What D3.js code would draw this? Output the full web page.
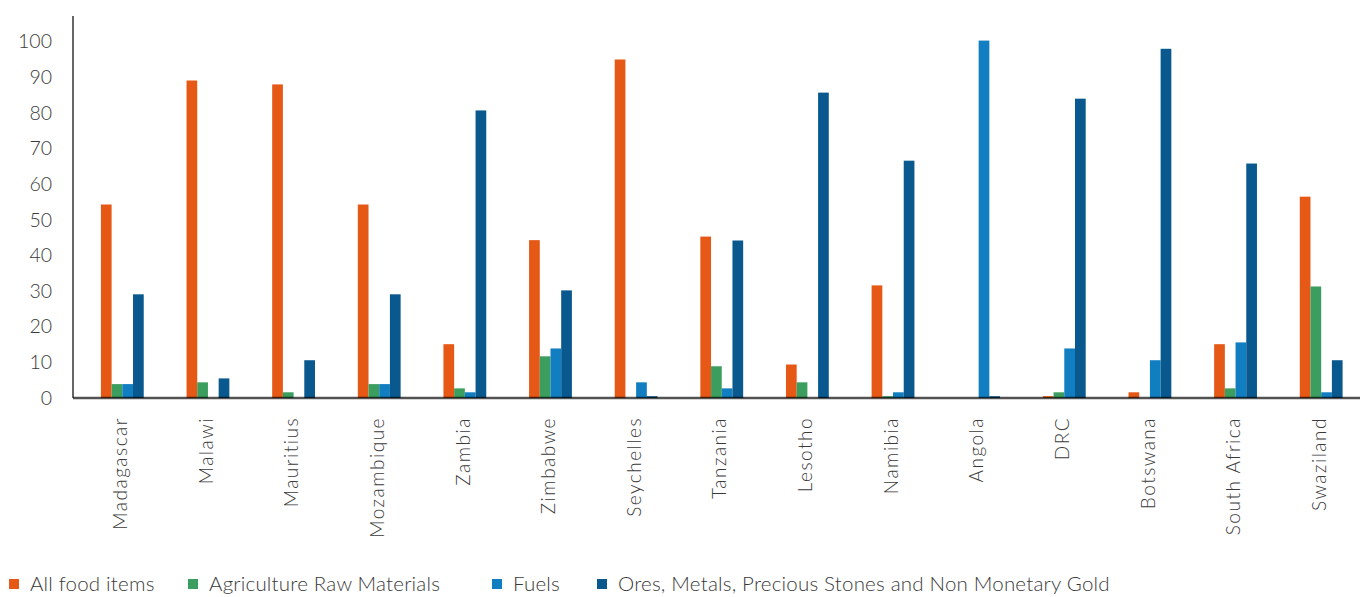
<!DOCTYPE html>
<html>
<head>
<meta charset="utf-8">
<script src="https://cdn.jsdelivr.net/npm/d3@7"></script>
<style>
  html, body { margin: 0; padding: 0; background: #fff; }
  svg text { font-family: Lato, "Open Sans", sans-serif; font-weight: 300; fill: #3a3a3a; }
</style>
</head>
<body>
<svg id="chart" width="1360" height="597"></svg>
<script>
// Export composition by product group, per country (%)
const countries = ["Madagascar", "Malawi", "Mauritius", "Mozambique", "Zambia", "Zimbabwe",
  "Seychelles", "Tanzania", "Lesotho", "Namibia", "Angola", "DRC", "Botswana", "South Africa", "Swaziland"];
const seriesNames = ["All food items", "Agriculture Raw Materials", "Fuels",
  "Ores, Metals, Precious Stones and Non Monetary Gold"];
const foodItems   = [54.3, 89.1, 88.0, 54.3, 15.1, 44.3, 95.0, 45.3,  9.4, 31.6,   0.0,  0.5,  1.6, 15.1, 56.5];
const agriRaw     = [ 3.9,  4.4,  1.6,  3.9,  2.7, 11.7,  0.0,  8.9,  4.4,  0.5,   0.0,  1.6,  0.0,  2.7, 31.3];
const fuels       = [ 3.9,  0.0,  0.0,  3.9,  1.6, 13.9,  4.4,  2.7,  0.0,  1.6, 100.3, 13.9, 10.6, 15.6,  1.6];
const oresMetals  = [29.1,  5.5, 10.6, 29.1, 80.7, 30.2,  0.5, 44.2, 85.7, 66.6,   0.5, 84.0, 98.0, 65.8, 10.6];
const yTicks = [0, 10, 20, 30, 40, 50, 60, 70, 80, 90, 100];
const colors = ["#E65815", "#3B9E5E", "#107EC0", "#09598F"];

const series = [foodItems, agriRaw, fuels, oresMetals];
const svg = d3.select("#chart");

const axisX = 73, plotTop = 16, plotBottom = 398;
const x0 = d3.scaleBand().domain(countries).range([79.5, 1364]).paddingInner(0.5).paddingOuter(0.25);
const x1 = d3.scaleBand().domain(d3.range(series.length)).range([0, x0.bandwidth()]);
const y = d3.scaleLinear().domain([0, 107.2]).range([plotBottom, plotTop]);

// bars
const groups = svg.append("g").selectAll("g")
  .data(countries).join("g")
  .attr("transform", d => `translate(${x0(d)},0)`);
groups.selectAll("rect")
  .data((c, i) => series.map((s, k) => ({ k, v: s[i] })))
  .join("rect")
  .attr("x", d => x1(d.k))
  .attr("width", x1.bandwidth())
  .attr("y", d => y(d.v))
  .attr("height", d => plotBottom - y(d.v))
  .attr("fill", d => colors[d.k]);

// y axis
const yAxis = d3.axisLeft(y).tickValues(yTicks).tickSize(0).tickPadding(21);
const gy = svg.append("g").attr("transform", `translate(${axisX},0)`).call(yAxis);
gy.select(".domain").remove();
gy.selectAll("text").style("font-size", "19.5px").attr("fill", "#3a3a3a");
svg.append("line").attr("x1", axisX).attr("x2", axisX).attr("y1", plotTop).attr("y2", plotBottom)
  .attr("stroke", "#333").attr("stroke-width", 1.5);

// x axis with rotated country labels
const xAxis = d3.axisBottom(x0).tickSize(0).tickPadding(0);
const gx = svg.append("g").attr("transform", `translate(0,${plotBottom})`).call(xAxis);
gx.select(".domain").remove();
gx.selectAll("text")
  .style("font-size", "19px")
  .style("letter-spacing", "1.5px")
  .attr("fill", "#3a3a3a")
  .attr("text-anchor", "end")
  .attr("dy", null)
  .attr("transform", "translate(0,19) rotate(-90)")
  .attr("x", 0).attr("y", 0)
  .attr("dominant-baseline", "middle");

// baseline drawn over bar bottoms
svg.append("line").attr("x1", axisX).attr("x2", 1360).attr("y1", plotBottom).attr("y2", plotBottom)
  .attr("stroke", "#000").attr("stroke-opacity", 0.68).attr("stroke-width", 2.5);

// legend
const legendX = [9, 188, 492, 597];
const legend = svg.append("g").attr("transform", "translate(0,584)");
const items = legend.selectAll("g").data(seriesNames).join("g")
  .attr("transform", (d, i) => `translate(${legendX[i]},0)`);
items.append("rect").attr("x", 0).attr("y", -5).attr("width", 10).attr("height", 10)
  .attr("fill", (d, i) => colors[i]);
items.append("text").attr("x", 21).attr("y", 0).attr("dy", "0.35em")
  .style("font-size", "20.5px").style("letter-spacing", "0.2px").text(d => d);
</script>
</body>
</html>
